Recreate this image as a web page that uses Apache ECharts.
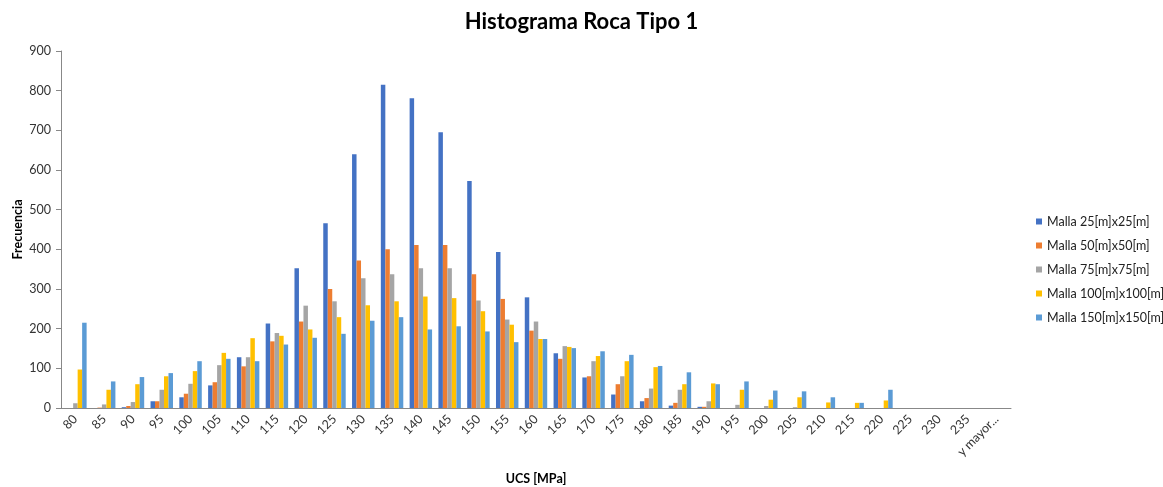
<!DOCTYPE html>
<html>
<head>
<meta charset="utf-8">
<script src="https://cdn.jsdelivr.net/npm/echarts@6/dist/echarts.min.js"></script>
<style>
  html, body { margin: 0; padding: 0; background: #fff; }
  #main { width: 1163px; height: 487px; }
</style>
</head>
<body>
<div id="main"></div>
<script>
const categories = ["80", "85", "90", "95", "100", "105", "110", "115", "120", "125", "130", "135", "140", "145", "150", "155", "160", "165", "170", "175", "180", "185", "190", "195", "200", "205", "210", "215", "220", "225", "230", "235", "y mayor..."];

const malla25 = [0, 0, 2, 17, 27, 57, 128, 213, 352, 466, 640, 815, 781, 695, 572, 393, 279, 138, 77, 34, 17, 6, 3, 0, 0, 0, 0, 0, 0, 0, 0, 0, 0];
const malla50 = [0, 1, 5, 17, 36, 65, 105, 168, 218, 300, 372, 400, 411, 411, 337, 275, 195, 124, 80, 60, 25, 13, 3, 0, 0, 0, 0, 0, 0, 0, 0, 0, 0];
const malla75 = [12, 9, 15, 46, 61, 108, 128, 189, 258, 269, 327, 337, 352, 352, 271, 223, 218, 156, 118, 80, 49, 46, 17, 8, 5, 2, 0, 0, 0, 0, 0, 0, 0];
const malla100 = [97, 46, 60, 80, 93, 139, 176, 182, 198, 229, 259, 269, 281, 277, 244, 210, 174, 154, 131, 118, 103, 60, 62, 46, 21, 27, 14, 13, 19, 0, 0, 0, 0];
const malla150 = [215, 67, 78, 88, 118, 124, 118, 160, 177, 187, 220, 229, 198, 206, 193, 166, 174, 151, 143, 134, 106, 90, 60, 67, 44, 42, 27, 13, 46, 0, 0, 0, 0];

const seriesNames = ["Malla 25[m]x25[m]", "Malla 50[m]x50[m]", "Malla 75[m]x75[m]", "Malla 100[m]x100[m]", "Malla 150[m]x150[m]"];
const seriesData = [malla25, malla50, malla75, malla100, malla150];

let chartDom = document.getElementById("main");
let myChart = echarts.init(chartDom);
let option;

const fontFamily = "Lato, 'Open Sans', sans-serif";

option = {
  animation: false,
  color: ["#4472C4", "#ED7D31", "#A5A5A5", "#FFC000", "#5B9BD5"],
  title: {
    text: "Histograma Roca Tipo 1",
    left: "center",
    top: 6,
    textStyle: {
      fontFamily: fontFamily,
      fontSize: 22,
      fontWeight: "bold",
      color: "#000"
    }
  },
  legend: {
    orient: "vertical",
    left: 1031,
    top: 210,
    itemWidth: 6,
    itemHeight: 6,
    itemGap: 11,
    icon: "rect",
    textStyle: {
      fontFamily: fontFamily,
      fontSize: 12.5,
      color: "#222"
    },
    data: seriesNames
  },
  grid: {
    left: 61,
    right: 152,
    top: 51,
    bottom: 79,
    containLabel: false,
    outerBoundsMode: "none"
  },
  xAxis: {
    type: "category",
    data: categories,
    name: "UCS [MPa]",
    nameLocation: "middle",
    nameGap: 64,
    nameMoveOverlap: false,
    nameTextStyle: {
      fontFamily: fontFamily,
      fontSize: 12.5,
      fontWeight: "bold",
      color: "#000"
    },
    axisLine: { lineStyle: { color: "#888" } },
    axisTick: { alignWithLabel: false, length: 5, lineStyle: { color: "#888" } },
    axisLabel: {
      rotate: 45,
      interval: 0,
      fontFamily: fontFamily,
      fontSize: 12.5,
      color: "#333",
      margin: 9
    }
  },
  yAxis: {
    type: "value",
    min: 0,
    max: 900,
    interval: 100,
    name: "Frecuencia",
    nameLocation: "middle",
    nameGap: 37,
    nameMoveOverlap: false,
    nameTextStyle: {
      fontFamily: fontFamily,
      fontSize: 12.5,
      fontWeight: "bold",
      color: "#000"
    },
    axisLine: { show: true, lineStyle: { color: "#888" } },
    axisTick: { show: true, length: 5, lineStyle: { color: "#888" } },
    splitLine: { show: false },
    axisLabel: {
      fontFamily: fontFamily,
      fontSize: 12.5,
      color: "#333",
      margin: 10
    }
  },
  series: seriesNames.map((name, i) => ({
    name: name,
    type: "bar",
    data: seriesData[i],
    barGap: "0%",
    barCategoryGap: "22%"
  }))
};

option && myChart.setOption(option);
</script>
</body>
</html>
